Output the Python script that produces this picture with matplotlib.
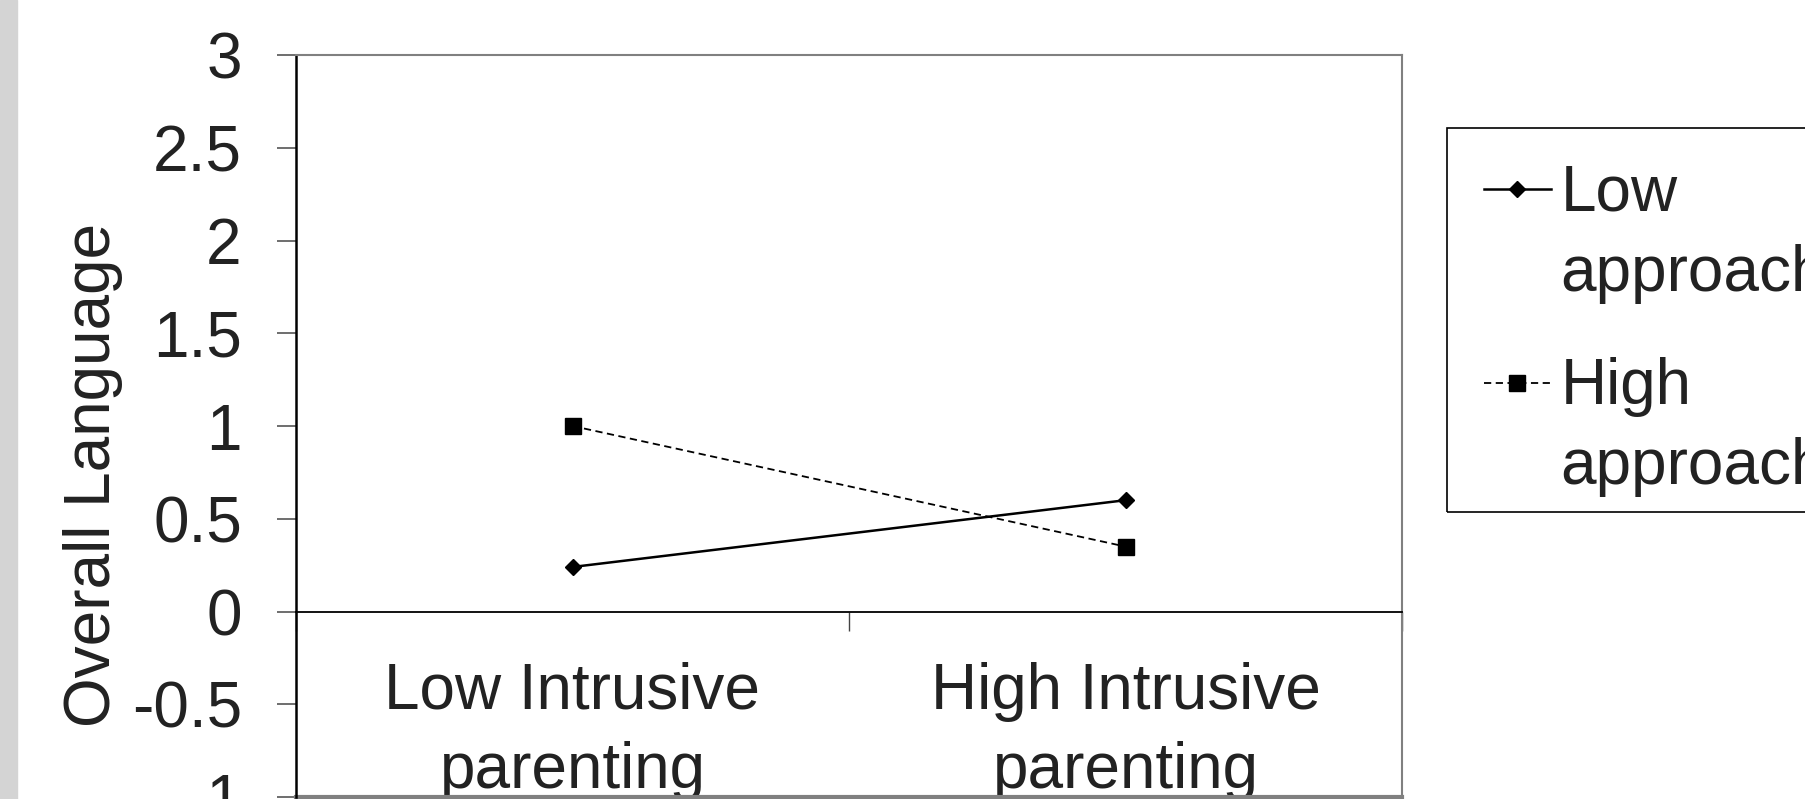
import numpy as np
import matplotlib
matplotlib.use('Agg')
import matplotlib.pyplot as plt
from matplotlib.legend_handler import HandlerLine2D
from matplotlib.patches import Rectangle

plt.rcParams['font.family'] = ['Liberation Sans', 'DejaVu Sans']

# Dados
categorias = ['Low Intrusive\nparenting', 'High Intrusive\nparenting']
low_approach = [0.24, 0.60]
high_approach = [1.00, 0.35]
series_labels = ['Low\napproach', 'High\napproach']
yticks = [-1, -0.5, 0, 0.5, 1, 1.5, 2, 2.5, 3]

FS = 46
LS = 1.42
TXT = '#222222'
GRAY = '#808080'
W, H = 1805, 799


class FirstLineHandler(HandlerLine2D):
    # handle alinhado com a primeira linha do rotulo
    def create_artists(self, legend, orig_handle, xdescent, ydescent,
                       width, height, fontsize, trans):
        return super().create_artists(legend, orig_handle, xdescent,
                                      ydescent - LS * fontsize, width,
                                      height, fontsize, trans)


fig = plt.figure(figsize=(W / 100, H / 100), dpi=100)
fig.patches.append(Rectangle((0, 0), 17 / W, 1, transform=fig.transFigure,
                             color='#d4d4d4', zorder=0))

ax = fig.add_axes([296 / W, 2 / H, (1402 - 296) / W, (797 - 55) / H])
x = np.arange(len(categorias))

l1, = ax.plot(x, low_approach, color='black', lw=1.8, marker='D', ms=8.5,
              label=series_labels[0])
l2, = ax.plot(x, high_approach, color='black', lw=1.3, ls=(0, (4, 2.5)),
              marker='s', ms=11, label=series_labels[1])

ax.set_xlim(-0.5, 1.5)
ax.set_ylim(-1, 3)
ax.set_yticks(yticks)
ax.set_yticklabels([f'{v:g}' for v in yticks])
ax.tick_params(axis='y', direction='out', length=14, width=1.2, color='#555555',
               pad=25, labelsize=FS, labelcolor=TXT)

# eixo x cruzando em 0
ax.spines['bottom'].set_position(('data', 0))
ax.spines['bottom'].set_color('black')
ax.spines['bottom'].set_linewidth(1.3)
ax.set_xticks([-0.5, 0.5, 1.5])
ax.set_xticklabels(['', '', ''])
ax.set_xticks(x, minor=True)
ax.set_xticklabels(categorias, minor=True)
ax.tick_params(axis='x', which='major', direction='out', length=14, width=1,
               color='#444444')
ax.tick_params(axis='x', which='minor', length=0, pad=36, labelsize=FS,
               labelcolor=TXT)
for lab in ax.get_xticklabels(minor=True):
    lab.set_linespacing(LS)

ax.spines['left'].set_color('black')
ax.spines['left'].set_linewidth(1.8)
for s in ['top', 'right']:
    ax.spines[s].set_color(GRAY)
    ax.spines[s].set_linewidth(1.5)
ax.axhline(-1, color=GRAY, lw=3, clip_on=False)

ax.set_ylabel('Overall Language', fontsize=FS, color=TXT, labelpad=6)
ax.yaxis.label.set_y(0.434)

# moldura da legenda (sai pela direita da figura)
fig.patches.append(Rectangle((1447 / W, 1 - 512 / H), 0.3, (512 - 128) / H,
                             transform=fig.transFigure, fill=False,
                             edgecolor='black', lw=1.2, zorder=1))

leg = fig.legend(handles=[l1, l2], loc='upper left',
                 bbox_to_anchor=(1457 / W, 1 - 137 / H),
                 borderaxespad=0, fontsize=FS, frameon=False,
                 handlelength=1.05, handletextpad=0.15,
                 borderpad=0.42, labelspacing=0.84,
                 handler_map={l1: FirstLineHandler(), l2: FirstLineHandler()})
for t in leg.get_texts():
    t.set_color(TXT)
    t.set_linespacing(LS)

fig.savefig('out.png', dpi=100)
